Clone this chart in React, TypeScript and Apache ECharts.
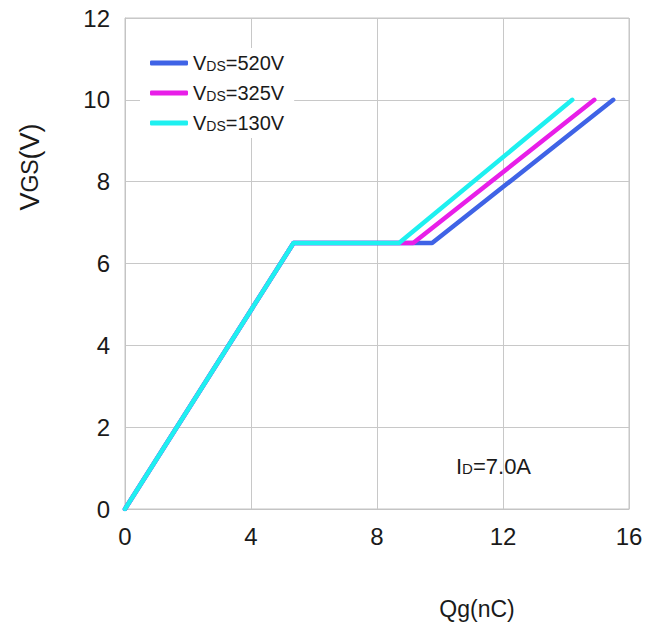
import React, { useEffect, useRef } from "react";
import * as echarts from "echarts";

// Gate charge characteristics: Qg (nC) vs VGS (V)
const seriesNames = ["VDS=520V", "VDS=325V", "VDS=130V"];
const seriesSuffix = ["=520V", "=325V", "=130V"];
const seriesColors = ["#3f63e6", "#e81ee8", "#1ef0f0"];
const qg520 = [0, 5.35, 9.75, 15.5];
const vgs520 = [0, 6.5, 6.5, 10];
const qg325 = [0, 5.35, 9.15, 14.9];
const vgs325 = [0, 6.5, 6.5, 10];
const qg130 = [0, 5.35, 8.7, 14.2];
const vgs130 = [0, 6.5, 6.5, 10];
const xTicks = [0, 4, 8, 12, 16];
const yTicks = [0, 2, 4, 6, 8, 10, 12];

const FONT = "'Liberation Sans', Arial, sans-serif";

function pairs(xs: number[], ys: number[]) {
  return xs.map((x, i) => [x, ys[i]]);
}

export default function App() {
  const ref = useRef<HTMLDivElement>(null);
  useEffect(() => {
    if (!ref.current) return;
    const chart = echarts.init(ref.current, undefined, { renderer: "svg" });
    const data = [pairs(qg520, vgs520), pairs(qg325, vgs325), pairs(qg130, vgs130)];
    const option: any = {
      animation: false,
      backgroundColor: "#ffffff",
      grid: {
        left: 125,
        right: 34,
        top: 18,
        bottom: 122,
        show: true,
        borderColor: "#c4c4c4",
        borderWidth: 1,
      },
      xAxis: {
        type: "value",
        min: xTicks[0],
        max: xTicks[xTicks.length - 1],
        interval: 4,
        axisLine: { show: true, lineStyle: { color: "#c4c4c4", width: 1 } },
        axisTick: { show: false },
        splitLine: { show: true, lineStyle: { color: "#c8c8c8", width: 1 } },
        axisLabel: {
          margin: 15,
          fontSize: 24,
          color: "#1a1a1a",
          fontFamily: FONT,
        },
      },
      yAxis: {
        type: "value",
        min: yTicks[0],
        max: yTicks[yTicks.length - 1],
        interval: 2,
        axisLine: { show: true, lineStyle: { color: "#c4c4c4", width: 1 } },
        axisTick: { show: false },
        splitLine: { show: true, lineStyle: { color: "#c8c8c8", width: 1 } },
        axisLabel: {
          margin: 15,
          fontSize: 24,
          color: "#1a1a1a",
          fontFamily: FONT,
        },
      },
      legend: {
        orient: "vertical",
        left: 140,
        top: 48,
        padding: [5, 10, 5, 10],
        backgroundColor: "#ffffff",
        itemWidth: 38,
        itemHeight: 5,
        itemGap: 10,
        icon: "roundRect",
        data: seriesNames,
        formatter: (name: string) => {
          const i = seriesNames.indexOf(name);
          return "{a|V}{b|DS}{a|" + seriesSuffix[i] + "}";
        },
        textStyle: {
          rich: {
            a: { fontSize: 20, lineHeight: 24, color: "#1a1a1a", fontFamily: FONT },
            b: {
              fontSize: 14,
              lineHeight: 19,
              padding: [5, 0, 0, 0],
              color: "#1a1a1a",
              fontFamily: FONT,
            },
          },
        },
      },
      series: data.map((d, i) => ({
        name: seriesNames[i],
        type: "line",
        data: d,
        showSymbol: false,
        symbol: "none",
        z: 2 + i,
        color: seriesColors[i],
        lineStyle: { color: seriesColors[i], width: 4.5, cap: "round", join: "round" },
      })),
      graphic: [
        {
          type: "text",
          x: 30,
          y: 167,
          rotation: Math.PI / 2,
          style: {
            text: "{a|V}{b|GS}{a|(V)}",
            align: "center",
            verticalAlign: "middle",
            rich: {
              a: { fontSize: 27, fontFamily: FONT, fill: "#1a1a1a" },
              b: { fontSize: 23, fontFamily: FONT, fill: "#1a1a1a" },
            },
          },
        },
        {
          type: "text",
          x: 477,
          y: 609,
          style: {
            text: "Qg(nC)",
            align: "center",
            verticalAlign: "middle",
            fontSize: 23,
            fontFamily: FONT,
            fill: "#1a1a1a",
          },
        },
        {
          type: "text",
          x: 456,
          y: 466,
          style: {
            text: "{a|I}{b|D}{a|=7.0A}",
            align: "left",
            verticalAlign: "middle",
            rich: {
              a: { fontSize: 22, lineHeight: 24, fontFamily: FONT, fill: "#1a1a1a" },
              b: {
                fontSize: 15,
                lineHeight: 19,
                padding: [5, 0, 0, 0],
                fontFamily: FONT,
                fill: "#1a1a1a",
              },
            },
          },
        },
      ],
    };
    chart.setOption(option);
    return () => chart.dispose();
  }, []);
  return (
    <div
      ref={ref}
      style={{ position: "fixed", left: 0, top: 0, width: 663, height: 631 }}
    />
  );
}
